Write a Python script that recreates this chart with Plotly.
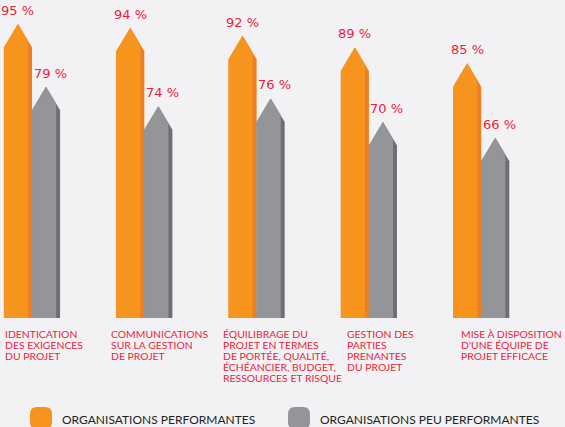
import plotly.graph_objects as go

categories = [
    "IDENTICATION<br>DES EXIGENCES<br>DU PROJET",
    "COMMUNICATIONS<br>SUR LA GESTION<br>DE PROJET",
    "ÉQUILIBRAGE DU<br>PROJET EN TERMES<br>DE PORTÉE, QUALITÉ,<br>ÉCHÉANCIER, BUDGET,<br>RESSOURCES ET RISQUE",
    "GESTION DES<br>PARTIES<br>PRENANTES<br>DU PROJET",
    "MISE À DISPOSITION<br>D'UNE ÉQUIPE DE<br>PROJET EFFICACE",
]
performantes = [95, 94, 92, 89, 85]
peu_performantes = [79, 74, 76, 70, 66]
series_names = ["ORGANISATIONS PERFORMANTES", "ORGANISATIONS PEU PERFORMANTES"]

ORANGE = "#F7941D"
ORANGE_DARK = "#EF7D22"
GREY = "#949598"
GREY_DARK = "#6E6F72"
RED = "#ED1C3A"
BG = "#F2F2F4"

BASE = 20      # value where the bars start (bottom of the plot area)
HALF = 0.125   # half width of a bar, in category units
TIP = 6        # height of the pointed top, in value units
SIDE = 0.035   # width of the darker side strip
LABEL_NUDGE = [1, -5, -6, 6, 8]   # px, labels are not placed evenly in the original


def pencil(center, value, cut=0.0):
    # outline of a pencil shaped bar, optionally trimmed on the right
    left = center - HALF
    right = center + HALF - cut
    shoulder = value - TIP * (HALF - cut) / HALF
    xs = [left, left, center, right, right, left]
    ys = [BASE, value - TIP, value, shoulder, BASE, BASE]
    return xs, ys


fig = go.Figure()

groups = [(performantes, -HALF, ORANGE, ORANGE_DARK, 0),
          (peu_performantes, HALF, GREY, GREY_DARK, 4)]

for values, offset, face, dark, xshift in groups:
    for i, v in enumerate(values):
        c = i + offset
        xs, ys = pencil(c, v)
        fig.add_trace(go.Scatter(x=xs, y=ys, mode="lines", fill="toself",
                                 fillcolor=dark, line=dict(width=0),
                                 hoverinfo="skip", showlegend=False))
        xs, ys = pencil(c, v, SIDE)
        fig.add_trace(go.Scatter(x=xs, y=ys, mode="lines", fill="toself",
                                 fillcolor=face, line=dict(width=0),
                                 hoverinfo="skip", showlegend=False))
        fig.add_annotation(x=c, y=v, text=f"{v} %", showarrow=False,
                           yanchor="bottom", yshift=4, xshift=xshift,
                           font=dict(family="DejaVu Sans", size=13, color=RED))

# category labels, one annotation per line to keep the tight leading
for i, label in enumerate(categories):
    for k, line in enumerate(label.split("<br>")):
        fig.add_annotation(x=i - 2 * HALF, xref="x", y=0, yref="paper",
                           text=line, showarrow=False, xanchor="left",
                           yanchor="top", yshift=-(8 + 11 * k),
                           xshift=LABEL_NUDGE[i] - 2,
                           font=dict(family="Lato", size=10.4, color=RED))


def rounded_square(x0, size, top, r):
    x1 = x0 + size
    bot = top - size
    return (f"M {x0 + r},{top} L {x1 - r},{top} Q {x1},{top} {x1},{top - r} "
            f"L {x1},{bot + r} Q {x1},{bot} {x1 - r},{bot} L {x0 + r},{bot} "
            f"Q {x0},{bot} {x0},{bot + r} L {x0},{top - r} Q {x0},{top} {x0 + r},{top} Z")


# legend drawn by hand at the bottom
legend = [(series_names[0], ORANGE, 30), (series_names[1], GREY, 288)]
for name, color, px in legend:
    fig.add_shape(type="path", xref="paper", yref="paper",
                  xsizemode="pixel", ysizemode="pixel", xanchor=0, yanchor=0,
                  path=rounded_square(px, 22, -89, 7),
                  fillcolor=color, line=dict(width=0))
    fig.add_annotation(x=(px + 30) / 565, xref="paper", y=0, yref="paper",
                       text=name, showarrow=False, xanchor="left",
                       yanchor="middle", yshift=-101,
                       font=dict(family="Lato", size=12, color="#231F20"))

fig.update_layout(
    width=565, height=427,
    margin=dict(l=0, r=0, t=0, b=109),
    paper_bgcolor=BG, plot_bgcolor=BG,
    showlegend=False,
    xaxis=dict(range=[-0.285, 4.746], visible=False, fixedrange=True),
    yaxis=dict(range=[BASE, 101.1], visible=False, fixedrange=True),
)

fig.write_html("out.html", config={"displayModeBar": False},
               post_script="document.body.style.margin='0';"
                           "document.body.style.overflow='hidden';")
